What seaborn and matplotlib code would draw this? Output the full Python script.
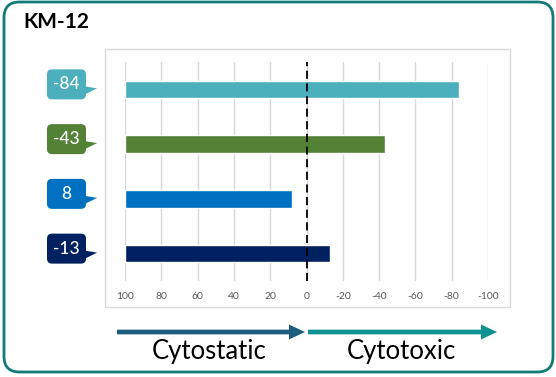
import pandas as pd
import matplotlib.pyplot as plt
import seaborn as sns
from matplotlib.patches import FancyBboxPatch, Polygon, Rectangle, FancyArrow
from matplotlib.ticker import FuncFormatter, FixedLocator

# data
rows = ['r1', 'r2', 'r3', 'r4']
values = [-84, -43, 8, -13]
value_labels = ['-84', '-43', '8', '-13']
colors = ['#4BAFBE', '#538135', '#0070C0', '#002060']
tick_values = [100, 80, 60, 40, 20, 0, -20, -40, -60, -80, -100]
arrow_labels = ['Cytostatic', 'Cytotoxic']

sns.set_style('white')
plt.rcParams['font.family'] = ['Lato', 'DejaVu Sans']
plt.rcParams['axes.unicode_minus'] = False

W, H = 556, 377
fig = plt.figure(figsize=(W / 100, H / 100), dpi=100)


def fx(px):
    return px / W


def fy(py):
    # py measured from top of the image
    return 1 - py / H


ax = fig.add_axes([fx(125), fy(281), 363 / W, 219 / H])

# bars start at 100 on a reversed axis, so plot the length from 100
df = pd.DataFrame({'row': rows, 'value': values})
df['length'] = 100 - df['value']
sns.barplot(data=df, x='length', y='row', hue='row', palette=colors,
            saturation=1, width=0.32, legend=False, ax=ax)

ax.set_xlim(0, 200)
ax.set_ylim(3.5, -0.5)
ax.xaxis.set_major_locator(FixedLocator([100 - t for t in tick_values]))
ax.xaxis.set_major_formatter(FuncFormatter(lambda x, _: f'{100 - x:g}'))
ax.tick_params(axis='x', length=0, pad=8, labelsize=7.5, labelcolor='#595959')
ax.set_yticks([])
ax.set_xlabel('')
ax.set_ylabel('')
ax.grid(axis='x', color='#d9d9d9', lw=1)
ax.set_axisbelow(True)
for s in ax.spines.values():
    s.set_visible(False)
ax.patch.set_alpha(0)

# zero line
ax.axvline(100 - 0, color='black', lw=1.3, ls=(0, (4.5, 2.5)))

# plot area frame
fig.add_artist(Rectangle((fx(105), fy(307)), 405 / W, 258 / H,
                         transform=fig.transFigure, fill=False,
                         ec='#d9d9d9', lw=1))

# outer rounded frame
fig.add_artist(FancyBboxPatch((fx(4), fy(372)), 549 / W, 370 / H,
                              boxstyle='round,pad=0,rounding_size=0.028',
                              mutation_aspect=W / H, transform=fig.transFigure,
                              fill=False, ec='#137C7A', lw=2))

fig.text(fx(23), fy(22), 'KM-12', fontsize=15, fontweight='bold',
         va='center', ha='left', color='black')

# callouts next to each bar
fig.canvas.draw()
for i, (lab, c) in enumerate(zip(value_labels, colors)):
    ybar = H - ax.transData.transform((0, i))[1]
    yc = ybar - 5
    fig.add_artist(FancyBboxPatch((fx(47), fy(yc + 15)), 39 / W, 30 / H,
                                  boxstyle='round,pad=0,rounding_size=0.009',
                                  mutation_aspect=W / H,
                                  transform=fig.transFigure, fc=c, ec='none'))
    fig.add_artist(Polygon([(fx(85), fy(yc + 2)), (fx(97), fy(yc + 4)),
                            (fx(85), fy(yc + 10))], closed=True,
                           transform=fig.transFigure, fc=c, ec='none'))
    fig.text(fx(66.5), fy(yc), lab, color='white', fontsize=12.5,
             fontweight='medium', ha='center', va='center')

# direction arrows
fig.add_artist(FancyArrow(fx(117), fy(332), (305 - 117) / W, 0,
                          width=4.7 / H, head_width=15 / H,
                          head_length=16 / W, length_includes_head=True,
                          transform=fig.transFigure, color='#1E5F7F', lw=0))
fig.add_artist(FancyArrow(fx(308), fy(332), (497 - 308) / W, 0,
                          width=4.7 / H, head_width=15 / H,
                          head_length=16 / W, length_includes_head=True,
                          transform=fig.transFigure, color='#0E9191', lw=0))
fig.text(fx(209), fy(352), arrow_labels[0], fontsize=18.5, ha='center',
         va='center', color='black')
fig.text(fx(401), fy(352), arrow_labels[1], fontsize=18.5, ha='center',
         va='center', color='black')

fig.savefig('out.png', dpi=100)
